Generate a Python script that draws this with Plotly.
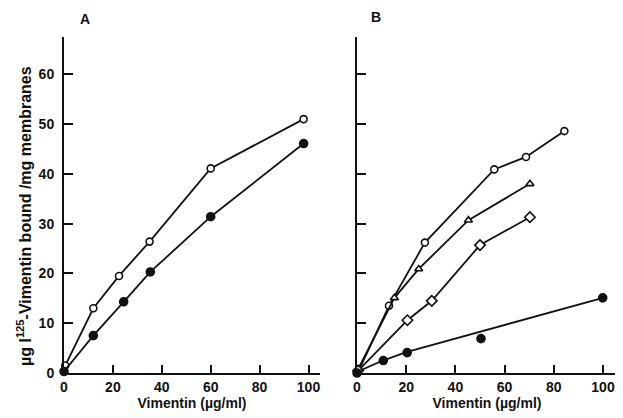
import plotly.graph_objects as go

# Panel A data
a_open_x = [0.5, 12, 22.5, 35, 60, 98]
a_open_y = [1.5, 13, 19.5, 26.4, 41.1, 51]
a_fill_x = [0, 12, 24.4, 35.3, 60, 98]
a_fill_y = [0.3, 7.5, 14.3, 20.3, 31.4, 46.1]

# Panel B data
b_circ_x = [0.5, 13, 27.6, 55.8, 68.7, 84.3]
b_circ_y = [0.3, 13.5, 26.2, 40.9, 43.4, 48.6]
b_tri_x = [0.5, 15.2, 25.1, 45.3, 70.3]
b_tri_y = [0.8, 15.1, 20.9, 30.7, 38]
b_dia_x = [0.5, 20.5, 30.4, 50, 70.3]
b_dia_y = [0.5, 10.6, 14.5, 25.7, 31.3]
b_fill_x = [0, 10.7, 20.4, 50.4, 99.9]
b_fill_y = [0, 2.5, 4.1, 6.9, 15.1]
b_fit_x = [0, 10, 20, 100]
b_fit_y = [0.2, 2.4, 4.2, 15.1]

x_ticks = [0, 20, 40, 60, 80, 100]
y_ticks = [0, 10, 20, 30, 40, 50, 60]

W, H = 623, 418
OFF = 8  # page body margin offset

def px(x):
    return (x - OFF) / W

def py(y):
    return 1 - (y - OFF) / H

black = "#111111"
line = dict(color=black, width=1.8)
font = dict(family="Liberation Sans, Arial, sans-serif", size=14, color=black, weight="bold")

fig = go.Figure()

def add(x, y, symbol, xa, ya, filled=False, mode="lines+markers", size=7):
    fig.add_trace(go.Scatter(
        x=x, y=y, mode=mode, xaxis=xa, yaxis=ya, line=line,
        marker=dict(symbol=symbol, size=size, color=black if filled else "white",
                    line=dict(color=black, width=1.6)),
        cliponaxis=False, showlegend=False))

add(a_open_x, a_open_y, "circle", "x", "y")
add(a_fill_x, a_fill_y, "circle", "x", "y", filled=True, size=8)

add(b_circ_x, b_circ_y, "circle", "x2", "y2")
add(b_tri_x, b_tri_y, "triangle-up", "x2", "y2")
add(b_dia_x, b_dia_y, "diamond", "x2", "y2", size=8)
fig.add_trace(go.Scatter(x=b_fit_x, y=b_fit_y, mode="lines", xaxis="x2", yaxis="y2",
                         line=line, showlegend=False, cliponaxis=False))
add(b_fill_x, b_fill_y, "circle", "x2", "y2", filled=True, mode="markers", size=8)

ydom = [py(373), py(37)]
common_x = dict(tickvals=x_ticks, ticks="inside", ticklen=8, tickwidth=1.5, tickcolor=black,
                showline=True, linecolor=black, linewidth=2, showgrid=False, zeroline=False,
                tickfont=font, automargin=False)
common_y = dict(tickvals=y_ticks, ticks="inside", ticklen=9, tickwidth=1.5, tickcolor=black,
                showline=True, linecolor=black, linewidth=2, showgrid=False, zeroline=False,
                tickfont=font, domain=ydom, range=[0, 67.5], automargin=False,
                ticklabelstandoff=5)

fig.update_layout(
    width=W, height=H,
    margin=dict(l=0, r=0, t=0, b=0),
    paper_bgcolor="white", plot_bgcolor="white",
    font=font,
    xaxis=dict(common_x, domain=[px(64), px(320)], range=[0, 104.7], anchor="y",
               title=dict(text="Vimentin (µg/ml)", font=font, standoff=4)),
    yaxis=dict(common_y, anchor="x"),
    xaxis2=dict(common_x, domain=[px(357), px(617)], range=[0, 105.7], anchor="y2",
                title=dict(text="Vimentin (µg/ml)", font=font, standoff=4)),
    yaxis2=dict(common_y, anchor="x2", showticklabels=False),
    annotations=[
        dict(text="A", x=px(85), y=py(19), xref="paper", yref="paper", showarrow=False,
             xanchor="center", yanchor="middle", font=font),
        dict(text="B", x=px(376), y=py(17), xref="paper", yref="paper", showarrow=False,
             xanchor="center", yanchor="middle", font=font),
        dict(text="µg I<sup>125</sup>-Vimentin bound /mg membranes", textangle=-90,
             x=px(24), y=py(216), xref="paper", yref="paper", showarrow=False,
             xanchor="center", yanchor="middle", font=dict(font, size=16)),
    ],
)

fig.write_html("out.html")
